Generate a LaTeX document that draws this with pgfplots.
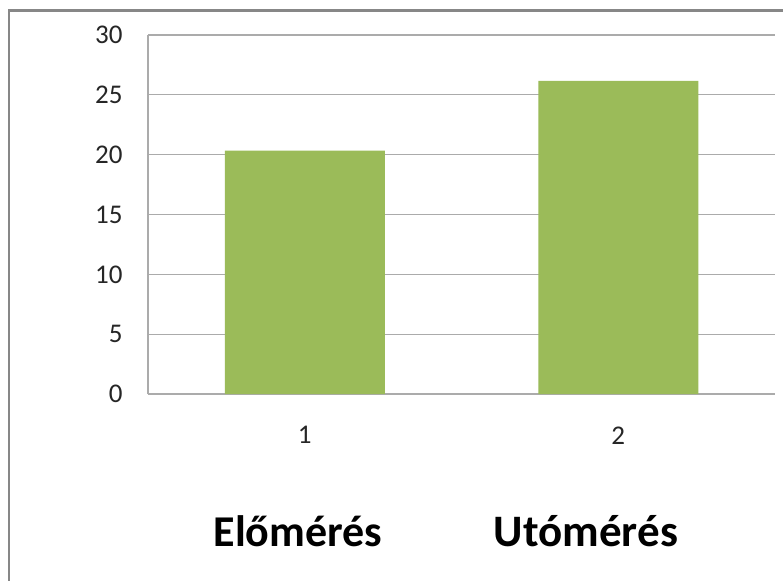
\documentclass[border=0pt]{standalone}
\usepackage{fontspec}
\setmainfont{Carlito}
\usepackage{pgfplots}
\pgfplotsset{compat=1.18}
\definecolor{bargreen}{HTML}{9BBB59}
\definecolor{gridgray}{HTML}{ABABAB}
\definecolor{framegray}{HTML}{878787}
\begin{document}
\begin{tikzpicture}[x=1pt,y=1pt]
\path[use as bounding box] (0,0) rectangle (783,581);
\fill[white] (0,0) rectangle (783,581);
\draw[framegray, line width=3pt] (9,570.5) -- (783,570.5);
\draw[framegray, line width=2.5pt] (9,571.5) -- (9,0);
\begin{axis}[
  at={(148pt,187pt)}, anchor=origin,
  scale only axis, width=627pt, height=359pt,
  xmin=0.5, xmax=2.5, ymin=0, ymax=30,
  xtick={1,2}, xticklabels={1,2},
  ytick={0,5,...,30},
  axis x line*=bottom, axis y line*=left,
  axis line style={gridgray, line width=1.2pt, -},
  ymajorgrids, grid style={gridgray, line width=1.2pt},
  major tick length=0pt,
  tick label style={font=\fontsize{27}{31}\selectfont, text=black!85},
  yticklabel style={xshift=-22pt},
  xticklabel style={yshift=-29pt},
  /pgf/number format/assume math mode=true,
  clip=false,
]
\addplot[ybar, bar width=160pt, fill=bargreen, draw=none] coordinates {(1,20.33) (2,26.16)};
\end{axis}
\node[anchor=base, font=\bfseries\fontsize{44}{50}\selectfont] at (298,35) {Előmérés};
\node[anchor=base, font=\bfseries\fontsize{45}{50}\selectfont] at (586,35) {Utómérés};
\end{tikzpicture}
\end{document}
